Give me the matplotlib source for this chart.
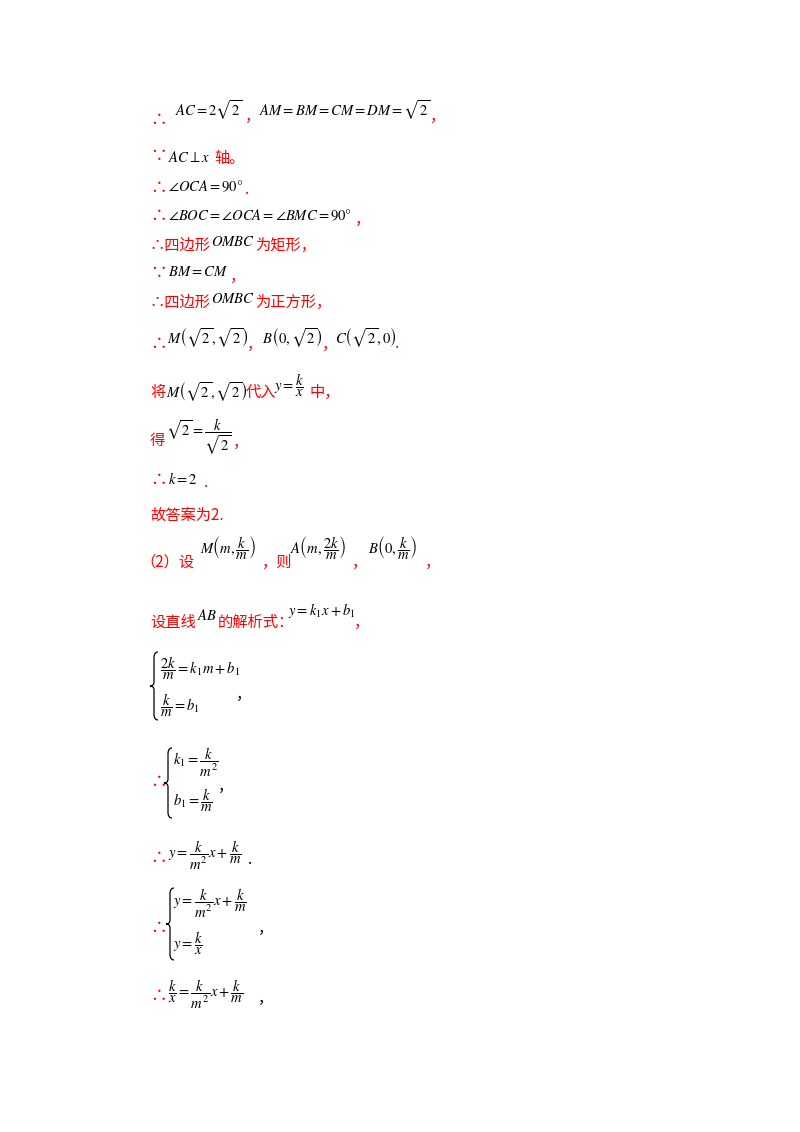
import matplotlib
matplotlib.use("Agg")
import matplotlib.pyplot as plt
from matplotlib.path import Path
from matplotlib.patches import PathPatch

plt.rcParams['font.family'] = ['Noto Sans CJK SC', 'DejaVu Sans']
plt.rcParams['mathtext.fontset'] = 'stix'

W, H = 800, 1132
R = '#ff0000'
K = '#000000'
M = 10.5  # math font size

# (x_px, y_px, text, color, size)
items = [
    (150, 120, "∴", R, 12), (175, 110, r"$AC=2\sqrt{2}$", K, M), (245, 116, "，", R, 11),
    (259, 110, r"$AM=BM=CM=DM=\sqrt{2}$", K, M), (430, 116, "，", R, 11),
    (150, 157, "∵", R, 12), (168, 157, r"$AC\perp x$", K, M), (214, 159, "轴。", R, 11),
    (150, 188, "∴", R, 12), (168, 186, r"$\angle OCA=90\degree$", K, M), (245, 190, ".", R, 11),
    (150, 217, "∴", R, 12), (168, 215, r"$\angle BOC=\angle OCA=\angle BMC=90\degree$", K, M), (355, 219, "，", R, 11),
    (150, 245, "∴四边形", R, 11), (211, 242, r"$OMBC$", K, M), (255, 245, "为矩形，", R, 11),
    (150, 274, "∵", R, 12), (168, 272, r"$BM=CM$", K, M), (230, 276, "，", R, 11),
    (150, 302, "∴四边形", R, 11), (211, 299, r"$OMBC$", K, M), (255, 302, "为正方形，", R, 11),
    (150, 345, "∴", R, 12), (167, 338, r"$M\left(\sqrt{2},\sqrt{2}\right)$", K, M), (247, 344, "，", R, 11),
    (262, 338, r"$B\left(0,\sqrt{2}\right)$", K, M), (322, 344, "，", R, 11),
    (335, 338, r"$C\left(\sqrt{2},0\right)$", K, M), (395, 344, ".", R, 11),
    (150, 392, "将", R, 11), (166, 392, r"$M\left(\sqrt{2},\sqrt{2}\right)$", K, M), (246, 392, "代入", R, 11),
    (274, 385, r"$y=\dfrac{k}{x}$", K, M), (310, 392, "中，", R, 11),
    (150, 440, "得", R, 11), (166, 437, r"$\sqrt{2}=\dfrac{k}{\sqrt{2}}$", K, M), (233, 442, "，", R, 11),
    (150, 481, "∴", R, 12), (168, 479, r"$k=2$", K, M), (204, 483, ".", R, 11),
    (150, 515, "故答案为2.", R, 11),
    (140, 562, "（2）设", R, 11), (200, 548, r"$M\left(m,\dfrac{k}{m}\right)$", K, M), (262, 562, "，则", R, 11),
    (290, 548, r"$A\left(m,\dfrac{2k}{m}\right)$", K, M), (352, 562, "，", R, 11),
    (368, 548, r"$B\left(0,\dfrac{k}{m}\right)$", K, M), (425, 562, "，", R, 11),
    (150, 622, "设直线", R, 11), (197, 615, r"$AB$", K, M), (218, 622, "的解析式：", R, 11),
    (288, 610, r"$y=k_1x+b_1$", K, M), (354, 622, "，", R, 11),
    (160, 668, r"$\dfrac{2k}{m}=k_1m+b_1$", K, M), (160, 705, r"$\dfrac{k}{m}=b_1$", K, M),
    (236, 694, "，", K, 11),
    (150, 783, "∴", R, 12), (173, 762, r"$k_1=\dfrac{k}{m^2}$", K, M), (173, 800, r"$b_1=\dfrac{k}{m}$", K, M),
    (218, 786, "，", K, 11),
    (150, 858, "∴", R, 12), (168, 855, r"$y=\dfrac{k}{m^2}x+\dfrac{k}{m}$", K, M), (248, 860, ".", K, 11),
    (150, 928, "∴", R, 12), (173, 903, r"$y=\dfrac{k}{m^2}x+\dfrac{k}{m}$", K, M), (173, 943, r"$y=\dfrac{k}{x}$", K, M),
    (258, 928, "，", K, 11),
    (150, 996, "∴", R, 12), (168, 994, r"$\dfrac{k}{x}=\dfrac{k}{m^2}x+\dfrac{k}{m}$", K, M), (258, 998, "，", K, 11),
]

# braces: (x_left_tip, y_top, y_bottom)
braces = [(150, 652, 720), (164, 748, 818), (166, 888, 960)]

fig = plt.figure(figsize=(W / 100, H / 100), dpi=100)
fig.patch.set_facecolor('white')
for x, y, t, c, s in items:
    fig.text(x / W, 1 - y / H, t, color=c, fontsize=s, ha='left', va='center')

def fy(y):
    return 1 - y / H
def fx(x):
    return x / W

for x0, yt, yb in braces:
    xm, x1 = x0 + 4, x0 + 8
    mid = (yt + yb) / 2
    verts = [(x1, yt), (xm, yt), (xm, yt + 6),
             (xm, mid - 4), (xm, mid), (x0, mid),
             (xm, mid), (xm, mid + 4),
             (xm, yb - 6), (xm, yb), (x1, yb)]
    codes = [Path.MOVETO, Path.CURVE3, Path.CURVE3,
             Path.LINETO, Path.CURVE3, Path.CURVE3,
             Path.CURVE3, Path.CURVE3,
             Path.LINETO, Path.CURVE3, Path.CURVE3]
    verts = [(fx(a), fy(b)) for a, b in verts]
    fig.patches.append(PathPatch(Path(verts, codes), fill=False, lw=0.9,
                                 edgecolor=K, transform=fig.transFigure, figure=fig))
fig.savefig("out.png", dpi=100, facecolor='white')
